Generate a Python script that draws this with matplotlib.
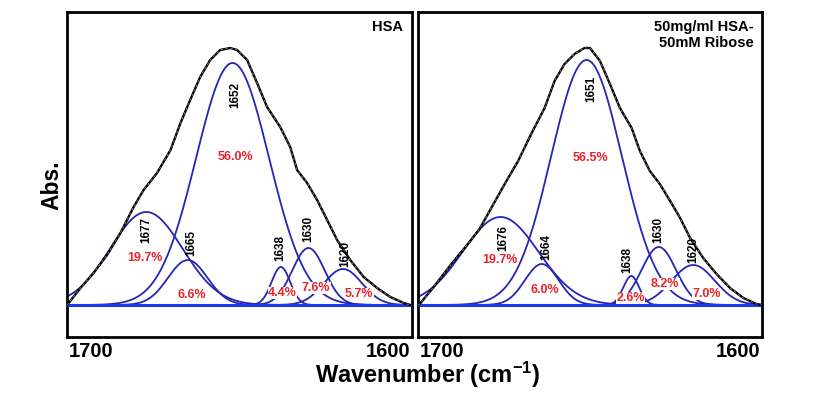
import numpy as np
import matplotlib
matplotlib.use("Agg")
import matplotlib.pyplot as plt
from matplotlib.transforms import offset_copy

plt.rcParams["font.family"] = ["Liberation Sans", "DejaVu Sans"]
plt.rcParams["font.weight"] = "bold"
plt.rcParams["mathtext.fontset"] = "custom"
plt.rcParams["mathtext.rm"] = "Liberation Sans:bold"
plt.rcParams["mathtext.it"] = "Liberation Sans:bold"
plt.rcParams["mathtext.bf"] = "Liberation Sans:bold"

# ---------------------------------------------------------------------------
# Data (wavenumber in cm-1, absorbance in arbitrary units)
# ---------------------------------------------------------------------------

# HSA
hsa_labels = ["1677", "1665", "1652", "1638", "1630", "1620"]
hsa_centers = [1677, 1665, 1652, 1638, 1630, 1620]
hsa_heights = [0.93, 0.45, 2.42, 0.38, 0.57, 0.36]
hsa_sigmas = [10.5, 5.7, 10.6, 2.7, 4.7, 5.5]
hsa_pct = ["19.7%", "6.6%", "56.0%", "4.4%", "7.6%", "5.7%"]
hsa_wn = [1700, 1699.5, 1696.1, 1692.3, 1688.4, 1684.5, 1680.7, 1677.8, 1673.9,
          1670.0, 1667.1, 1664.3, 1661.4, 1658.5, 1655.6, 1652.7, 1650.7, 1647.8,
          1644.9, 1642.0, 1638.2, 1635.3, 1633.3, 1630.4, 1627.5, 1624.6, 1621.7,
          1617.9, 1614.0, 1610.1, 1606.3, 1602.4, 1600.5]
hsa_abs = [0.0, 0.02, 0.17, 0.32, 0.50, 0.72, 0.98, 1.15, 1.32, 1.55, 1.82, 2.05,
           2.28, 2.45, 2.55, 2.57, 2.55, 2.45, 2.22, 1.98, 1.78, 1.58, 1.35, 1.22,
           1.05, 0.85, 0.65, 0.45, 0.28, 0.17, 0.08, 0.02, 0.0]

# 50mg/ml HSA - 50mM Ribose
rib_labels = ["1676", "1664", "1651", "1638", "1630", "1620"]
rib_centers = [1676, 1664, 1651, 1638, 1630, 1620]
rib_heights = [0.88, 0.41, 2.45, 0.29, 0.58, 0.40]
rib_sigmas = [11.0, 4.9, 10.3, 2.3, 5.0, 6.3]
rib_pct = ["19.7%", "6.0%", "56.5%", "2.6%", "8.2%", "7.0%"]
rib_wn = [1700, 1699.5, 1695.2, 1690.3, 1685.5, 1682.1, 1678.7, 1674.8, 1670.9,
          1667.1, 1663.2, 1660.3, 1657.4, 1654.5, 1651.6, 1650.0, 1647.1, 1644.2,
          1641.3, 1637.9, 1635.5, 1632.6, 1629.7, 1626.7, 1623.8, 1620.9, 1617.1,
          1613.2, 1609.3, 1605.4, 1601.6, 1600.1]
rib_abs = [0.0, 0.01, 0.19, 0.41, 0.61, 0.76, 0.97, 1.21, 1.44, 1.71, 1.97, 2.24,
           2.41, 2.51, 2.57, 2.57, 2.44, 2.21, 1.97, 1.77, 1.54, 1.34, 1.21, 1.04,
           0.87, 0.67, 0.47, 0.31, 0.17, 0.07, 0.01, 0.0]

# ---------------------------------------------------------------------------
# Layout
# ---------------------------------------------------------------------------

BLUE = "#2626b4"
BASE_BLUE = "#1e3ce6"
RED = "#e8232a"

# (x, y) label spots for the band number and the percentage, per panel
hsa_num_pos = [(1677.1, 0.75), (1664.1, 0.62), (1651.3, 2.10),
               (1638.3, 0.57), (1630.1, 0.76), (1619.4, 0.51)]
hsa_pct_pos = [(1677.4, 0.47), (1663.9, 0.10), (1651.3, 1.48),
               (1637.5, 0.12), (1627.8, 0.17), (1615.3, 0.11)]
rib_num_pos = [(1675.2, 0.67), (1662.6, 0.58), (1649.5, 2.16),
               (1639.2, 0.45), (1630.1, 0.75), (1620.0, 0.55)]
rib_pct_pos = [(1676.2, 0.45), (1663.1, 0.15), (1650.0, 1.47),
               (1638.2, 0.07), (1628.2, 0.21), (1616.1, 0.11)]

x_ends = [1700, 1600]


def gauss(x, c, h, s):
    return h * np.exp(-0.5 * ((x - c) / s) ** 2)


def draw_panel(fig, ax, centers, heights, sigmas, labels, pcts, wn, ab,
               num_pos, pct_pos, title):
    x = np.linspace(1600, 1700, 600)
    for c, h, s in zip(centers, heights, sigmas):
        ax.plot(x, gauss(x, c, h, s), color=BLUE, lw=1.3, zorder=2)
    ax.axhline(0, color=BASE_BLUE, lw=2.2, zorder=3)
    ax.plot(wn, ab, color="black", lw=1.7, zorder=4)
    ax.plot(wn, ab, color="#888888", lw=0.6, ls=(0, (3, 3)), zorder=5)

    for lab, (px, py) in zip(labels, num_pos):
        ax.text(px, py, lab, rotation=90, ha="center", va="center",
                fontsize=8.5, fontweight="bold", color="black", zorder=6)
    for p, (px, py) in zip(pcts, pct_pos):
        ax.text(px, py, p, ha="center", va="center", fontsize=9,
                fontweight="bold", color=RED, zorder=6,
                bbox=dict(facecolor="white", edgecolor="none", pad=0.3))

    ax.text(0.975, 0.975, title, transform=ax.transAxes, ha="right", va="top",
            fontsize=10.5, fontweight="bold", linespacing=1.15)

    ax.set_xlim(1700, 1600)
    ax.set_ylim(-0.32, 2.93)
    ax.set_yticks([])
    ax.set_xticks([])

    # end labels of the wavenumber axis, flush with the frame
    for val, ha, dx in zip(x_ends, ["left", "right"], [1.5, -1.5]):
        tr = offset_copy(ax.get_xaxis_transform(), fig=fig, x=dx, y=-5,
                         units="dots")
        ax.text(val, 0, str(val), transform=tr, ha=ha, va="top",
                fontsize=14.5, fontweight="bold")

    for sp in ax.spines.values():
        sp.set_linewidth(2.0)


fig = plt.figure(figsize=(8.2, 4.05), dpi=100)
ax1 = fig.add_axes([67 / 820, 1 - 337 / 405, 345 / 820, 325 / 405])
ax2 = fig.add_axes([418 / 820, 1 - 337 / 405, 344 / 820, 325 / 405])

draw_panel(fig, ax1, hsa_centers, hsa_heights, hsa_sigmas, hsa_labels,
           hsa_pct, hsa_wn, hsa_abs, hsa_num_pos, hsa_pct_pos, "HSA")
draw_panel(fig, ax2, rib_centers, rib_heights, rib_sigmas, rib_labels,
           rib_pct, rib_wn, rib_abs, rib_num_pos, rib_pct_pos,
           "50mg/ml HSA-\n50mM Ribose")

fig.text(428 / 820, 1 - 375 / 405, r"Wavenumber (cm$^{-1}$)", ha="center",
         va="center", fontsize=17, fontweight="bold")
fig.text(52 / 820, 1 - 185 / 405, "Abs.", rotation=90, ha="center",
         va="center", fontsize=16.5, fontweight="bold")

fig.savefig("out.png", dpi=100)
